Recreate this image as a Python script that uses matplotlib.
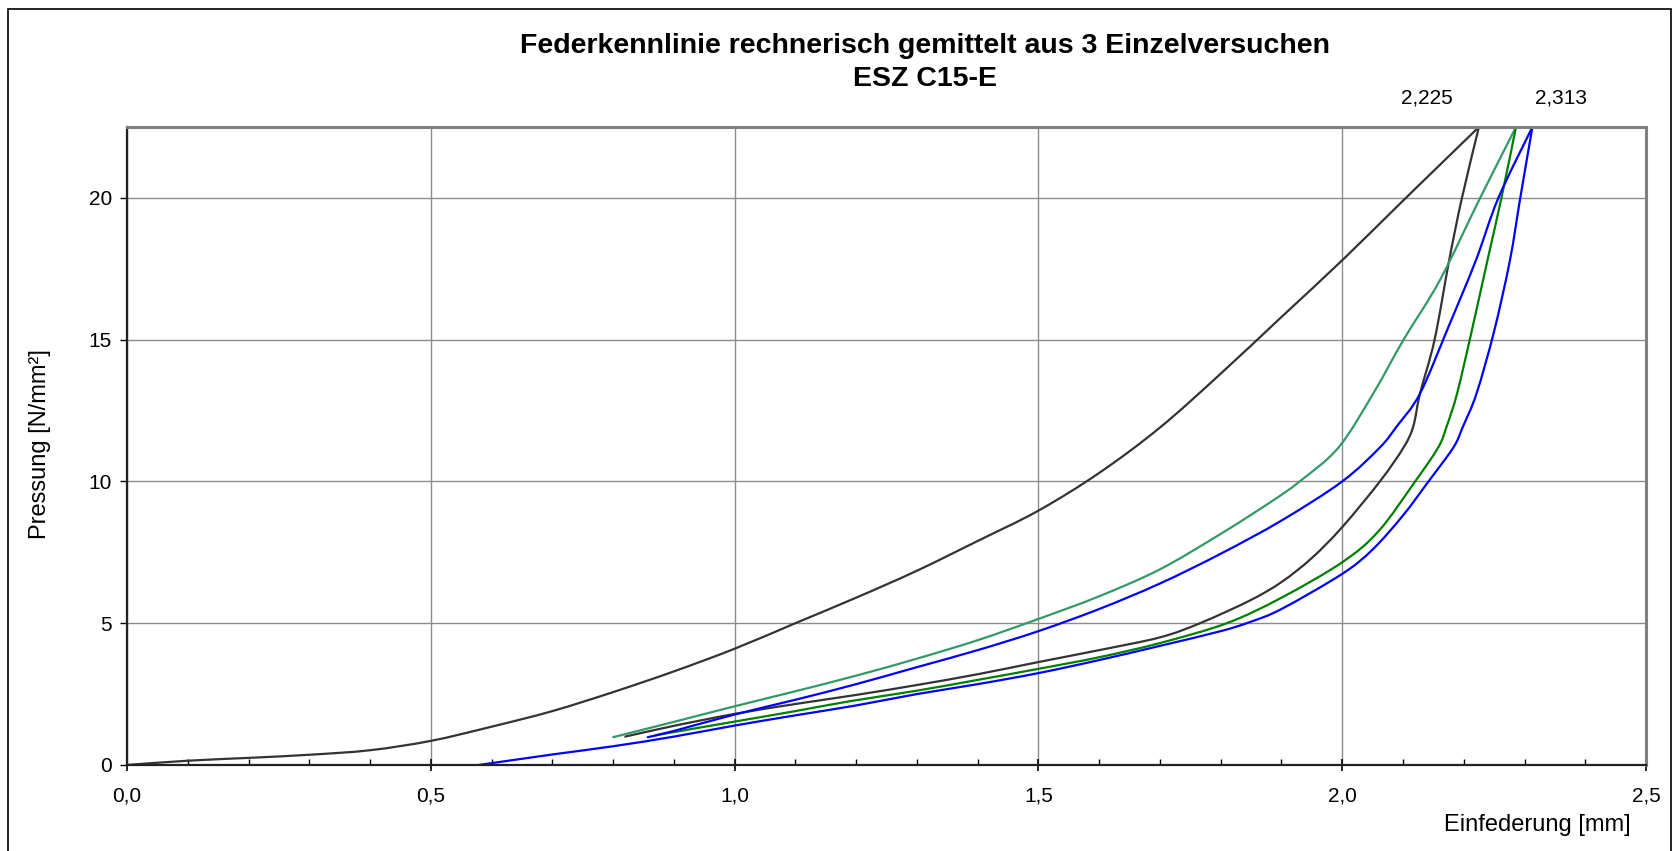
import numpy as np
import matplotlib
matplotlib.use('Agg')
import matplotlib.pyplot as plt
from matplotlib.patches import Rectangle, PathPatch
from matplotlib.path import Path
from matplotlib.ticker import MultipleLocator, FuncFormatter

plt.rcParams['font.family'] = ['Liberation Sans', 'DejaVu Sans']

# Versuch 1: Belastung ab Nullpunkt, danach Entlastung
v1_load_x = [0, 0.1, 0.2, 0.3, 0.4, 0.5, 0.6, 0.7, 0.8, 0.9, 1.0, 1.1, 1.2, 1.3, 1.4,
             1.5, 1.6, 1.7, 1.8, 1.9, 2.0, 2.1, 2.225]
v1_load_y = [0, 0.15, 0.25, 0.36, 0.52, 0.85, 1.35, 1.9, 2.57, 3.3, 4.1, 5.0, 5.9, 6.85, 7.9,
             8.97, 10.3, 11.9, 13.8, 15.8, 17.8, 19.9, 22.5]
v1_unload_x = [2.225, 2.197, 2.176, 2.152, 2.128, 2.117, 2.101, 2.062, 2.0, 1.95, 1.9, 1.848,
               1.766, 1.7, 1.6, 1.5, 1.4, 1.3, 1.2, 1.1, 1.0, 0.9, 0.82]
v1_unload_y = [22.5, 20.0, 17.8, 15.0, 13.1, 11.95, 11.2, 10.0, 8.39, 7.3, 6.45, 5.8,
               5.0, 4.5, 4.05, 3.63, 3.2, 2.82, 2.47, 2.15, 1.8, 1.38, 1.0]

# Versuch 2
v2_load_x = [0.80, 0.9, 1.0, 1.1, 1.2, 1.3, 1.4, 1.5, 1.6, 1.7, 1.8, 1.882, 1.93,
             1.994, 2.051, 2.101, 2.161, 2.227, 2.286]
v2_load_y = [0.98, 1.52, 2.07, 2.6, 3.15, 3.75, 4.4, 5.15, 5.95, 6.9, 8.15, 9.27, 10.0,
             11.2, 13.1, 15.0, 17.11, 20.0, 22.5]
v2_unload_x = [2.286, 2.262, 2.239, 2.212, 2.189, 2.172, 2.158, 2.12, 2.06, 2.0, 1.9, 1.81,
               1.7, 1.6, 1.5, 1.4, 1.3, 1.19, 1.1, 1.0, 0.87]
v2_unload_y = [22.5, 20.0, 17.8, 15.2, 13.1, 11.95, 11.2, 10.0, 8.25, 7.15, 5.9, 5.0,
               4.3, 3.8, 3.39, 3.0, 2.62, 2.25, 1.9, 1.53, 1.05]

# Versuch 3
v3_load_x = [0.857, 0.9, 1.0, 1.1, 1.2, 1.3, 1.4, 1.5, 1.6, 1.7, 1.8, 1.9, 2.0,
             2.062, 2.09, 2.128, 2.175, 2.22, 2.257, 2.313]
v3_load_y = [0.98, 1.2, 1.78, 2.3, 2.85, 3.45, 4.05, 4.72, 5.5, 6.4, 7.45, 8.62, 10.0,
             11.2, 11.95, 13.1, 15.46, 17.8, 20.0, 22.5]
v3_unload_x = [2.313, 2.293, 2.276, 2.25, 2.221, 2.199, 2.183, 2.142, 2.1, 2.05, 2.0, 1.9,
               1.848, 1.8, 1.7, 1.6, 1.5, 1.4, 1.3, 1.2, 1.1, 1.0, 0.9, 0.8, 0.7, 0.579]
v3_unload_y = [22.5, 20.0, 17.8, 15.3, 13.1, 11.95, 11.2, 10.0, 8.8, 7.6, 6.74, 5.5,
               5.04, 4.72, 4.2, 3.7, 3.24, 2.85, 2.5, 2.1, 1.75, 1.39, 1.0, 0.66, 0.37, 0.0]

max_travel = [2.225, 2.313]
max_label = ['2,225', '2,313']
p_max = 22.5

title_1 = 'Federkennlinie rechnerisch gemittelt aus 3 Einzelversuchen'
title_2 = 'ESZ C15-E'


def smooth_line(ax, xs, ys, color, lw):
    # geglättete Linie durch die Messpunkte (Bezier-Segmente wie bei Excel)
    p = np.column_stack([xs, ys])
    n = len(p)
    verts = [p[0]]
    codes = [Path.MOVETO]
    for i in range(n - 1):
        p0 = p[i - 1] if i > 0 else p[i]
        p3 = p[i + 2] if i + 2 < n else p[i + 1]
        verts += [p[i] + (p[i + 1] - p0) / 6, p[i + 1] - (p3 - p[i]) / 6, p[i + 1]]
        codes += [Path.CURVE4] * 3
    ax.add_patch(PathPatch(Path(verts, codes), fill=False, ec=color, lw=lw,
                           capstyle='round', joinstyle='round'))


fig = plt.figure(figsize=(16.74, 8.51), dpi=100)
ax = fig.add_axes([0.0759, 0.1011, 0.9074, 0.7497])

lw = 1.6
smooth_line(ax, v1_load_x, v1_load_y, '#333333', lw)
smooth_line(ax, v1_unload_x, v1_unload_y, '#333333', lw)
smooth_line(ax, v2_load_x, v2_load_y, '#339966', lw)
smooth_line(ax, v2_unload_x, v2_unload_y, '#008000', lw)
smooth_line(ax, v3_load_x, v3_load_y, '#0000ff', lw)
smooth_line(ax, v3_unload_x, v3_unload_y, '#0000ff', lw)

ax.set_xlim(0, 2.5)
ax.set_ylim(0, p_max)
ax.xaxis.set_major_locator(MultipleLocator(0.5))
ax.xaxis.set_minor_locator(MultipleLocator(0.1))
ax.yaxis.set_major_locator(MultipleLocator(5))
ax.xaxis.set_major_formatter(FuncFormatter(lambda v, p: f'{v:.1f}'.replace('.', ',')))
ax.yaxis.set_major_formatter(FuncFormatter(lambda v, p: f'{v:.0f}'))

ax.grid(True, which='major', color='#8c8c8c', lw=1.0)
ax.set_axisbelow(True)

ax.tick_params(axis='x', which='major', direction='inout', length=9, width=1.2,
               labelsize=15, pad=11, color='black')
ax.tick_params(axis='x', which='minor', direction='in', length=4, width=1.0, color='black')
ax.tick_params(axis='y', which='major', direction='out', length=5, width=1.0,
               labelsize=15, pad=6, color='black')

for side in ['left', 'bottom']:
    ax.spines[side].set_color('#222222')
    ax.spines[side].set_linewidth(1.6)
for side in ['top', 'right']:
    ax.spines[side].set_color('#808080')
    ax.spines[side].set_linewidth(2.2)

# Werte der maximalen Einfederung
ax.annotate(max_label[0], xy=(max_travel[0], p_max), xytext=(-19, 21),
            textcoords='offset points', ha='right', va='center', fontsize=15,
            annotation_clip=False)
ax.annotate(max_label[1], xy=(max_travel[1], p_max), xytext=(2, 21),
            textcoords='offset points', ha='left', va='center', fontsize=15,
            annotation_clip=False)

fig.text(0.5526, 0.9455, title_1, ha='center', va='center', fontsize=20.5, fontweight='bold')
fig.text(0.5526, 0.9075, title_2, ha='center', va='center', fontsize=20.5, fontweight='bold')
fig.text(0.0239, 0.478, 'Pressung [N/mm²]', rotation=90, ha='center', va='center', fontsize=17)
fig.text(0.9743, 0.0306, 'Einfederung [mm]', ha='right', va='center', fontsize=17)

# Rahmen um das Diagramm
fig.add_artist(Rectangle((8.5 / 1674, -0.05), (1671 - 8.5) / 1674, 1.05 - 8.5 / 851,
                         transform=fig.transFigure, fill=False, ec='black', lw=1.2))

fig.savefig('out.png', dpi=100)
